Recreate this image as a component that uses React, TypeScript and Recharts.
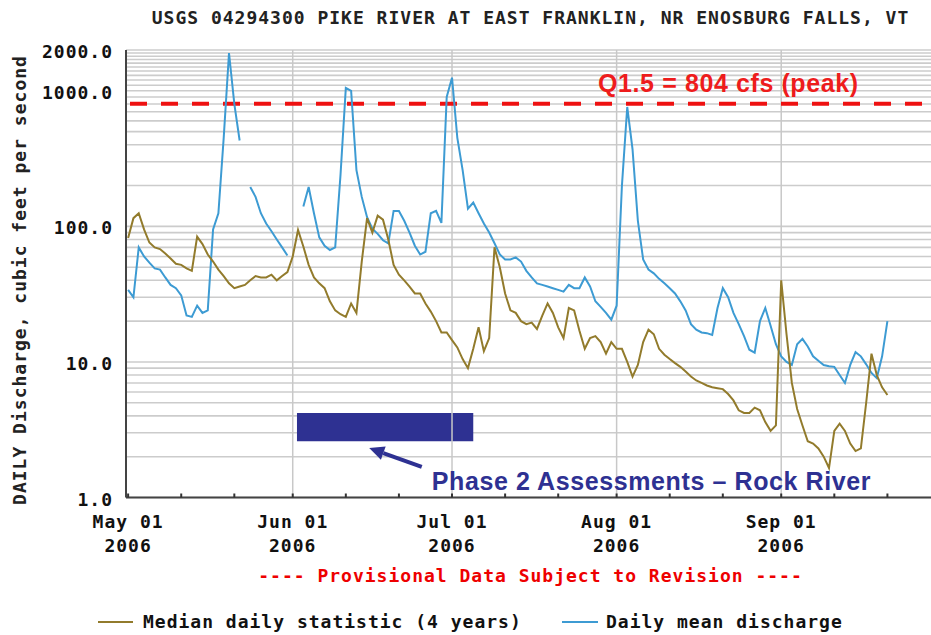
import React from 'react';
import { ComposedChart, Line, XAxis, YAxis, CartesianGrid, ReferenceLine, ReferenceArea, Legend } from 'recharts';

// day 0 = May 01 2006
const dailyMean: (number | null)[] = [
  34, 30, 70, 60, 54, 49, 48, 42, 37, 35,
  31, 22, 21.5, 26, 23, 24, 95, 125, 450, 1900,
  800, 430, null, 195, 165, 125, 105, 92, 80, 70,
  61, null, null, 140, 195, 125, 83, 72, 67, 70,
  240, 1050, 1000, 260, 165, 117, 96, 88, 79, 75,
  130, 130, 110, 90, 72, 62, 65, 125, 130, 106,
  900, 1250, 450, 260, 135, 150, 125, 105, 90, 75,
  62, 57, 57, 59, 55, 47, 42, 38, 37, 36,
  35, 34, 33, 37, 35, 35, 42, 36, 28, 25.5,
  23, 20.5, 26, 200, 760, 370, 110, 57, 48, 45,
  41, 38, 35, 32, 28, 24, 19, 17.3, 16.5, 16.3,
  15.8, 25, 35, 30, 23, 19, 15.5, 12.3, 11.7, 20,
  25, 18.5, 13.5, 11, 10, 9.5, 13.5, 14.8, 13, 11,
  10.2, 9.5, 9.3, 9.2, 8, 7, 9.5, 11.8, 11, 9.6,
  8.3, 7.6, 11, 20,
];

const medianDaily: number[] = [
  82, 115, 125, 95, 76, 70, 68, 63, 58, 53,
  52, 49, 47, 84, 74, 62, 55, 48, 43, 38,
  35, 36, 37, 40, 43, 42, 42, 44, 40, 43,
  46, 60, 94, 71, 52, 42, 38, 35, 28, 24,
  22.5, 21.5, 27, 23, 55, 115, 90, 120, 112, 80,
  52, 44, 40, 36, 32, 32, 27, 23.5, 20, 16.5,
  16.5, 14.5, 12.8, 10.5, 9, 12.5, 18, 12, 15, 70,
  50, 32, 24, 23, 20, 19, 19.5, 17.5, 22, 27,
  23, 18, 15, 25, 24, 17, 12.5, 15, 15.5, 14,
  11.5, 14, 12.5, 12.5, 10, 7.8, 9.5, 14, 17.3, 16,
  12.5, 11.3, 10.5, 9.8, 9.2, 8.5, 7.8, 7.3, 7, 6.7,
  6.5, 6.4, 6.3, 5.8, 5.2, 4.4, 4.2, 4.2, 4.6, 4.4,
  3.6, 3.1, 3.4, 40, 16, 7, 4.5, 3.4, 2.6, 2.5,
  2.3, 2, 1.65, 3.1, 3.5, 3.1, 2.5, 2.2, 2.3, 5,
  11.5, 8, 6.5, 5.7,
];

const monthStarts = [0, 31, 61, 92, 123];
const monthLabels = ['May 01', 'Jun 01', 'Jul 01', 'Aug 01', 'Sep 01'];
const xTicks = [0, 10, 20, 31, 41, 51, 61, 71, 81, 92, 102, 112, 123, 133, 143];
const yTicks = [
  1, 2, 3, 4, 5, 6, 7, 8, 9, 10,
  20, 30, 40, 50, 60, 70, 80, 90, 100,
  200, 300, 400, 500, 600, 700, 800, 900, 1000,
  1100, 1200, 1300, 1400, 1500, 1600, 1700, 1800, 1900, 2000,
];
const yLabelled = [1, 10, 100, 1000, 2000];

const q15 = 804;
const phase2Days = [31.8, 65];
const phase2Flow = [2.6, 4.2];
const arrowPts = [{ x: 55.3, y: 1.68 }, { x: 45.4, y: 2.32 }];

const seriesNames = ['Median daily statistic (4 years)', 'Daily mean discharge'];
const medianColor = '#927b2c';
const meanColor = '#3d9bd3';
const annotBlue = '#2e3192';

const mono = "'DejaVu Sans Mono', monospace";
const sans = "'Liberation Sans', Arial, sans-serif";
const monoCss: React.CSSProperties = { fontFamily: mono, fontWeight: 700, fontSize: 18, letterSpacing: '1px' };

const BottomTick = (props: any) => {
  const { x, y, payload } = props;
  const i = monthStarts.indexOf(payload.value);
  return (
    <g>
      <line x1={x} y1={y} x2={x} y2={y - 4} stroke="#333" strokeWidth={2} />
      {i >= 0 && (
        <text textAnchor="middle" fill="#111" style={monoCss}>
          <tspan x={x} y={y + 30}>{monthLabels[i]}</tspan>
          <tspan x={x} y={y + 54.5}>2006</tspan>
        </text>
      )}
    </g>
  );
};

const TopTick = (props: any) => {
  const { x, y } = props;
  return <line x1={x} y1={y} x2={x} y2={y + 4} stroke="#333" strokeWidth={2} />;
};

const LeftTick = (props: any) => {
  const { x, y, payload } = props;
  if (!yLabelled.includes(payload.value)) return <g />;
  return (
    <text x={x} y={y + 8} textAnchor="end" fill="#111" style={monoCss}>
      {payload.value.toFixed(1)}
    </text>
  );
};

const Q15Label = (props: any) => {
  const vb = props.viewBox || { x: 126, y: 104 };
  return (
    <text x={vb.x + 472} y={vb.y - 12} fill="#ee1c1c" style={{ fontFamily: sans, fontWeight: 700, fontSize: 25, letterSpacing: '0.6px' }}>
      Q1.5 = 804 cfs (peak)
    </text>
  );
};

const ArrowShape = (props: any) => {
  const { x1, y1, x2, y2 } = props;
  const a = Math.atan2(y2 - y1, x2 - x1);
  const head = 15;
  const half = 7;
  const bx = x2 - head * Math.cos(a);
  const by = y2 - head * Math.sin(a);
  const px = -Math.sin(a) * half;
  const py = Math.cos(a) * half;
  return (
    <g>
      <line x1={x1} y1={y1} x2={bx} y2={by} stroke={annotBlue} strokeWidth={4} />
      <polygon points={`${x2},${y2} ${bx + px},${by + py} ${bx - px},${by - py}`} fill={annotBlue} />
      <text x={x1 + 10} y={y1 + 23} fill={annotBlue} style={{ fontFamily: sans, fontWeight: 700, fontSize: 25, letterSpacing: '0.6px' }}>
        Phase 2 Assessments – Rock River
      </text>
    </g>
  );
};

const LegendContent = () => (
  <div style={{ position: 'relative', height: 22, color: '#111', ...monoCss }}>
    <div style={{ position: 'absolute', left: 98, top: 0, display: 'flex', alignItems: 'center', whiteSpace: 'nowrap' }}>
      <span style={{ display: 'inline-block', width: 35, height: 2, background: medianColor, marginRight: 10 }} />
      <span>{seriesNames[0]}</span>
    </div>
    <div style={{ position: 'absolute', left: 562, top: 0, display: 'flex', alignItems: 'center', whiteSpace: 'nowrap' }}>
      <span style={{ display: 'inline-block', width: 36, height: 2, background: meanColor, marginRight: 8 }} />
      <span>{seriesNames[1]}</span>
    </div>
  </div>
);

export default function App() {
  const data = dailyMean.map((v, i) => ({ day: i, mean: v, median: i < medianDaily.length ? medianDaily[i] : null }));
  return (
    <div style={{ position: 'absolute', left: 0, top: 0, width: 931, height: 635, overflow: 'hidden', background: '#fff' }}>
      <div style={{ position: 'absolute', left: 126, top: 7, width: 809, textAlign: 'center', lineHeight: '22px', color: '#222', ...monoCss }}>
        USGS 04294300 PIKE RIVER AT EAST FRANKLIN, NR ENOSBURG FALLS, VT
      </div>
      <div style={{ position: 'absolute', left: 20 - 240, top: 280 - 11, width: 480, height: 22, lineHeight: '22px', textAlign: 'center', transform: 'rotate(-90deg)', color: '#222', ...monoCss }}>
        DAILY Discharge, cubic feet per second
      </div>
      <div style={{ position: 'absolute', left: 126, top: 565, width: 809, textAlign: 'center', lineHeight: '22px', color: '#ee0000', ...monoCss }}>
        ---- Provisional Data Subject to Revision ----
      </div>
      <ComposedChart width={940} height={635} data={data} margin={{ top: 50, right: 4.8, bottom: 0, left: 0 }}>
        <CartesianGrid vertical={false} stroke="#cccccc" strokeWidth={1.6} />
        <XAxis
          dataKey="day"
          type="number"
          domain={[-0.4, 152]}
          ticks={xTicks}
          interval={0}
          height={137.5}
          tickSize={0}
          tickMargin={0}
          tickLine={false}
          tick={BottomTick}
          axisLine={{ stroke: '#444', strokeWidth: 2 }}
          allowDataOverflow
        />
        <XAxis
          xAxisId="top"
          orientation="top"
          dataKey="day"
          type="number"
          domain={[-0.4, 152]}
          ticks={xTicks}
          interval={0}
          height={0}
          tickSize={0}
          tickMargin={0}
          tickLine={false}
          tick={TopTick}
          axisLine={{ stroke: '#444', strokeWidth: 2 }}
          allowDataOverflow
        />
        <YAxis
          type="number"
          scale="log"
          domain={[1, 2000]}
          ticks={yTicks}
          interval={0}
          width={126}
          tickSize={0}
          tickMargin={13}
          tickLine={false}
          tick={LeftTick}
          axisLine={{ stroke: '#444', strokeWidth: 2 }}
          allowDataOverflow
        />
        {monthStarts.slice(1).map((d) => (
          <ReferenceLine key={d} x={d} stroke="#c8c8c8" strokeWidth={1.5} />
        ))}
        <ReferenceArea x1={phase2Days[0]} x2={phase2Days[1]} y1={phase2Flow[0]} y2={phase2Flow[1]} fill={annotBlue} fillOpacity={1} stroke="none" />
        <ReferenceLine segment={arrowPts} shape={ArrowShape} />
        <ReferenceLine y={q15} stroke="#ee1111" strokeWidth={4} strokeDasharray="17 14" strokeDashoffset={-4} label={Q15Label} />
        <Line dataKey="mean" name={seriesNames[1]} stroke={meanColor} strokeWidth={2} dot={false} isAnimationActive={false} connectNulls={false} />
        <Line dataKey="median" name={seriesNames[0]} stroke={medianColor} strokeWidth={2} dot={false} isAnimationActive={false} connectNulls={false} />
        <Legend
          layout="horizontal"
          verticalAlign="middle"
          align="center"
          content={LegendContent}
          wrapperStyle={{ left: 0, top: 611, width: 931, height: 22 }}
        />
      </ComposedChart>
    </div>
  );
}
